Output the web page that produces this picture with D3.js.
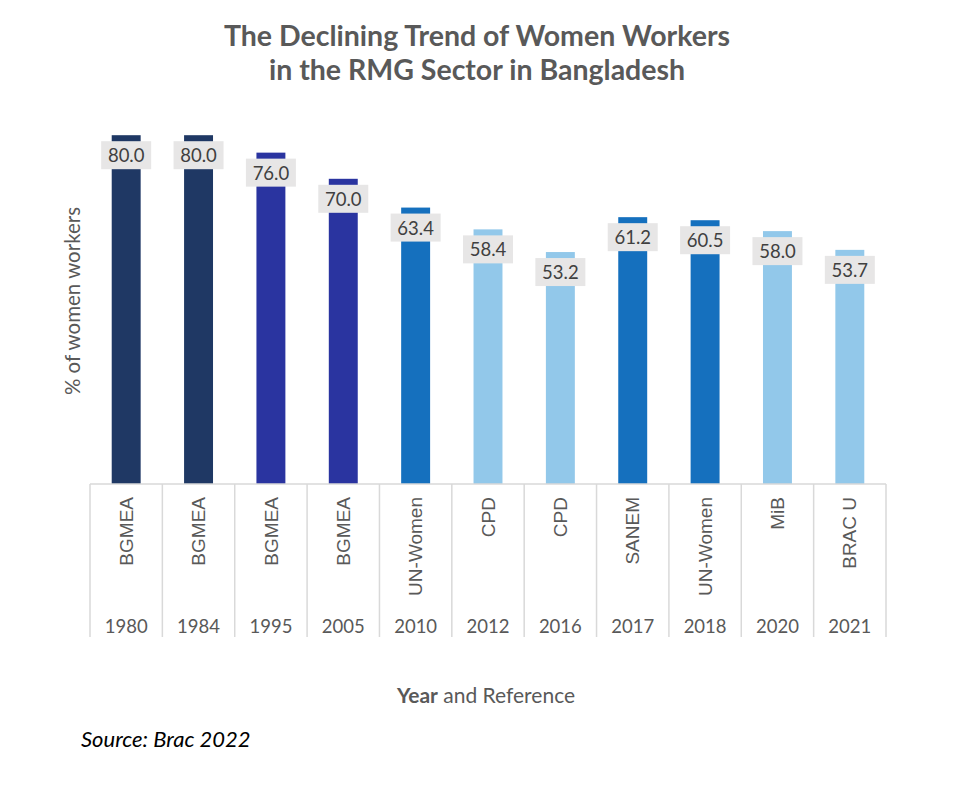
<!DOCTYPE html>
<html>
<head>
<meta charset="utf-8">
<script src="https://cdn.jsdelivr.net/npm/d3@7"></script>
<style>
  html, body { margin: 0; padding: 0; background: #fff; }
  svg { display: block; }
</style>
</head>
<body>
<script>
// ---- data ----
const years = ["1980", "1984", "1995", "2005", "2010", "2012", "2016", "2017", "2018", "2020", "2021"];
const references = ["BGMEA", "BGMEA", "BGMEA", "BGMEA", "UN-Women", "CPD", "CPD", "SANEM", "UN-Women", "MiB", "BRAC U"];
const shares = [80.0, 80.0, 76.0, 70.0, 63.4, 58.4, 53.2, 61.2, 60.5, 58.0, 53.7];
const colorGroup = ["navy", "navy", "royal", "royal", "mid", "light", "light", "mid", "mid", "light", "light"];

const W = 975, H = 786;
const palette = { navy: "#1f3864", royal: "#2a34a0", mid: "#1570be", light: "#92c8ea" };

const svg = d3.select("body").append("svg").attr("width", W).attr("height", H);

const margin = { left: 90, right: 89, top: 48, bottom: 302 };
const x = d3.scaleBand().domain(d3.range(years.length)).range([margin.left, W - margin.right]).paddingInner(0).paddingOuter(0);
const y = d3.scaleLinear().domain([0, 100]).range([484, 48]);

// title
const title = svg.append("text").attr("text-anchor", "middle")
  .attr("font-family", "Lato").attr("font-weight", 700).attr("font-size", 28.5).attr("fill", "#595959");
title.append("tspan").attr("x", 477).attr("y", 46).text("The Declining Trend of Women Workers");
title.append("tspan").attr("x", 477).attr("y", 80).text("in the RMG Sector in Bangladesh");

// bars
const bw = x.bandwidth() * 0.4;
svg.append("g").selectAll("rect").data(shares).join("rect")
  .attr("x", (d, i) => x(i) + x.bandwidth() / 2 - bw / 2)
  .attr("width", bw)
  .attr("y", d => y(d))
  .attr("height", d => y(0) - y(d))
  .attr("fill", (d, i) => palette[colorGroup[i]]);

// data labels
const lab = svg.append("g").selectAll("g").data(shares).join("g")
  .attr("transform", (d, i) => `translate(${x(i) + x.bandwidth() / 2},${y(d) + 6})`);
lab.append("rect").attr("x", -25).attr("y", 0).attr("width", 50).attr("height", 28).attr("fill", "#e7e6e6");
lab.append("text").attr("text-anchor", "middle").attr("y", 21)
  .attr("font-family", "Lato").attr("font-size", 18.5).attr("fill", "#404040")
  .text(d => d3.format(".1f")(d));

// axis lines
const grid = svg.append("g").attr("stroke", "#d9d9d9").attr("stroke-width", 1.5);
grid.append("line").attr("x1", x.range()[0]).attr("x2", x.range()[1]).attr("y1", y(0)).attr("y2", y(0));
const bounds = d3.range(years.length + 1).map(i => i < years.length ? x(i) : x.range()[1]);
grid.selectAll("line.sep").data(bounds).join("line").attr("class", "sep")
  .attr("x1", d => d).attr("x2", d => d).attr("y1", y(0)).attr("y2", 637);

// reference labels (rotated)
svg.append("g").selectAll("text").data(references).join("text")
  .attr("transform", (d, i) => `translate(${x(i) + x.bandwidth() / 2},497) rotate(-90)`)
  .attr("text-anchor", "end").attr("dy", "0.35em")
  .attr("font-family", "Liberation Sans").attr("font-size", 19).attr("fill", "#595959")
  .text(d => d);

// year labels
svg.append("g").selectAll("text").data(years).join("text")
  .attr("x", (d, i) => x(i) + x.bandwidth() / 2).attr("y", 633)
  .attr("text-anchor", "middle")
  .attr("font-family", "Lato").attr("font-size", 18.5).attr("fill", "#595959")
  .text(d => d);

// y axis title
svg.append("text").attr("transform", "translate(80,301) rotate(-90)")
  .attr("text-anchor", "middle").attr("font-family", "Lato").attr("font-size", 20.5).attr("fill", "#595959")
  .text("% of women workers");

// x axis title
const xt = svg.append("text").attr("x", 486).attr("y", 703).attr("text-anchor", "middle")
  .attr("font-family", "Lato").attr("font-size", 21).attr("fill", "#595959");
xt.append("tspan").attr("font-weight", 700).text("Year");
xt.append("tspan").text(" and Reference");

// source
svg.append("text").attr("x", 81).attr("y", 747)
  .attr("font-family", "Lato").attr("font-style", "italic").attr("font-size", 22).attr("fill", "#000")
  .text("Source: Brac 2022");
</script>
</body>
</html>
